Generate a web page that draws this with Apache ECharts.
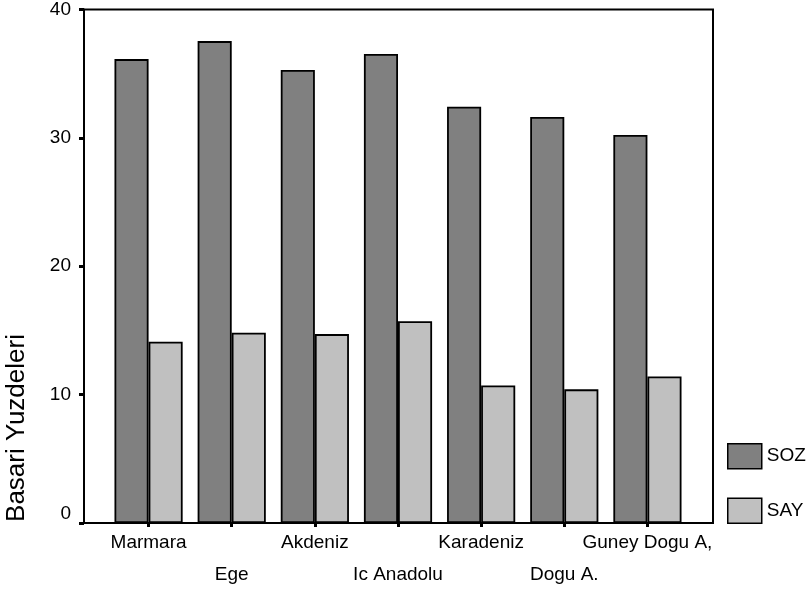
<!DOCTYPE html>
<html>
<head>
<meta charset="utf-8">
<script src="https://cdn.jsdelivr.net/npm/echarts@6/dist/echarts.min.js"></script>
<style>html,body{margin:0;padding:0;background:#fff;}#c{width:807px;height:592px;}</style>
</head>
<body>
<div id="c"></div>
<script>
var categories = ['Marmara', 'Ege', 'Akdeniz', 'Ic Anadolu', 'Karadeniz', 'Dogu A.', 'Guney Dogu A,'];
var sozValues = [36.1, 37.5, 35.25, 36.5, 32.4, 31.6, 30.2];
var sayValues = [14.1, 14.8, 14.7, 15.7, 10.7, 10.4, 11.4];
var seriesNames = ['SOZ', 'SAY'];
var yAxisTitle = 'Basari Yuzdeleri';
var yMin = 0, yMax = 40, yStep = 10;

var FONT = 'Liberation Sans, Arial, sans-serif';
var chart = echarts.init(document.getElementById('c'), null, {renderer: 'canvas'});
chart.setOption({
  animation: false,
  backgroundColor: '#fff',
  textStyle: {fontFamily: FONT},
  grid: [
    {left: 84, right: 94, top: 9, bottom: 69, show: true, borderColor: '#000', borderWidth: 2, backgroundColor: 'transparent'},
    {left: 107, width: 582, top: 9, bottom: 69}
  ],
  xAxis: [
    {gridIndex: 0, type: 'value', show: false},
    {
      gridIndex: 1, type: 'category', data: categories,
      axisLine: {show: false},
      axisTick: {show: true, alignWithLabel: true, length: 4, lineStyle: {color: '#000', width: 3}},
      axisLabel: {
        interval: 0, margin: 4, color: '#000', fontSize: 19, fontFamily: FONT, lineHeight: 32,
        formatter: function (v, i) { return i % 2 === 1 ? '\n' + v : v; }
      }
    }
  ],
  yAxis: [
    {
      gridIndex: 0, type: 'value', min: yMin, max: yMax, interval: yStep,
      axisLine: {show: true, lineStyle: {color: '#000', width: 2}},
      axisTick: {show: true, length: 5, lineStyle: {color: '#000', width: 3}},
      splitLine: {show: false},
      axisLabel: {
        margin: 13, color: '#000', fontSize: 19, fontFamily: FONT, lineHeight: 19,
        formatter: function (v) { return v === 0 ? '0\n ' : String(v); }
      }
    },
    {gridIndex: 1, type: 'value', min: yMin, max: yMax, interval: yStep, show: false, splitLine: {show: false}}
  ],
  legend: {
    orient: 'vertical', left: 727, top: 443, padding: 0,
    itemWidth: 34, itemHeight: 25, itemGap: 28,
    icon: 'rect',
    itemStyle: {borderColor: '#000', borderWidth: 1.5},
    textStyle: {color: '#000', fontSize: 19, fontFamily: FONT},
    data: seriesNames
  },
  series: [
    {
      name: seriesNames[0], type: 'bar', xAxisIndex: 1, yAxisIndex: 1, data: sozValues,
      barGap: '0%', barCategoryGap: '18%',
      itemStyle: {color: '#808080', borderColor: '#000', borderWidth: 1.8}
    },
    {
      name: seriesNames[1], type: 'bar', xAxisIndex: 1, yAxisIndex: 1, data: sayValues,
      barGap: '0%', barCategoryGap: '18%',
      itemStyle: {color: '#c0c0c0', borderColor: '#000', borderWidth: 1.8}
    }
  ],
  graphic: [{
    type: 'text', x: 17, y: 428, rotation: Math.PI / 2,
    style: {text: yAxisTitle, fill: '#000', font: '26px ' + FONT, align: 'center', verticalAlign: 'middle'}
  }]
});
</script>
</body>
</html>
